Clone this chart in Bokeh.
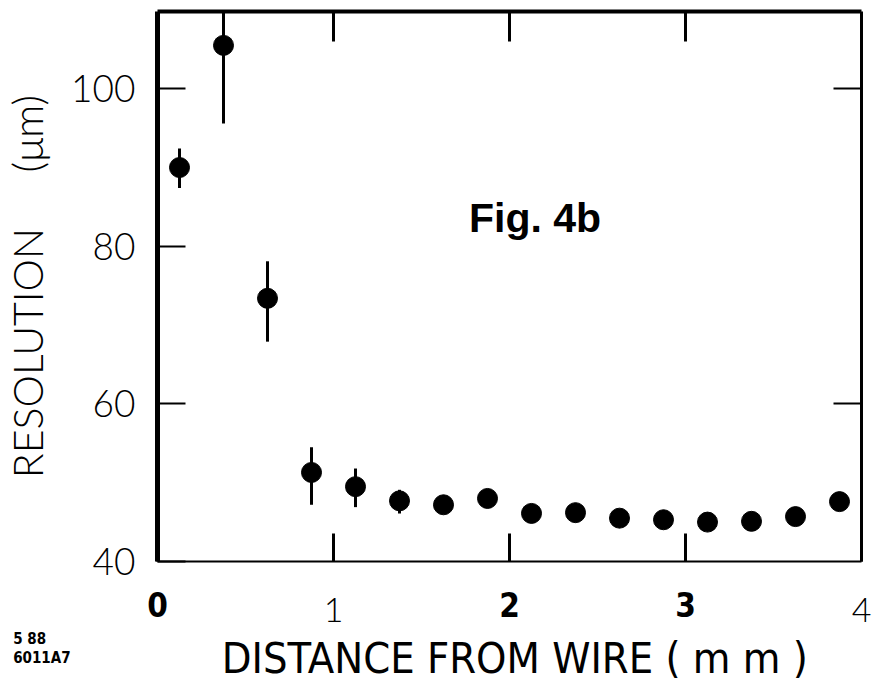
from bokeh.plotting import figure
from bokeh.models import Range1d, LinearAxis, FixedTicker, Label
from bokeh.embed import file_html
from bokeh.resources import INLINE

# Data
distance = [0.125, 0.375, 0.625, 0.875, 1.125, 1.375, 1.625, 1.875,
            2.125, 2.375, 2.625, 2.875, 3.125, 3.375, 3.625, 3.875]
resolution = [90.0, 105.5, 73.4, 51.3, 49.5, 47.7, 47.2, 48.0,
              46.1, 46.2, 45.5, 45.3, 45.0, 45.1, 45.7, 47.6]
err_low = [87.4, 95.6, 67.9, 47.2, 46.9, 46.1, 46.3, 47.2,
           45.3, 45.4, 44.7, 44.5, 44.2, 44.3, 44.9, 46.8]
err_high = [92.4, 116.0, 78.1, 54.5, 51.8, 49.1, 48.2, 48.8,
            46.9, 47.0, 46.3, 46.1, 45.8, 45.9, 46.5, 48.4]

x_bold_ticks = [0, 2, 3]
x_light_ticks = [1, 4]
y_ticks = [40, 60, 80, 100]
x_title = "DISTANCE FROM WIRE ( m m )"
y_title = "RESOLUTION\u00a0\u00a0\u00a0\u00a0\u00a0(\u03bcm)"
fig_label = "Fig. 4b"
stamp_lines = ["5 88", "6011A7"]

LIGHT = "Lato Light, Lato"
NARROW = "Liberation Sans Narrow, DejaVu Sans Condensed, Liberation Sans"

p = figure(frame_width=704, frame_height=550,
           x_range=Range1d(0, 4), y_range=Range1d(40, 109.8),
           output_backend="svg", toolbar_location=None,
           x_axis_location=None, y_axis_location=None,
           min_border_left=157, min_border_top=11,
           min_border_right=12, min_border_bottom=115)
p.grid.visible = False
p.outline_line_color = None
p.background_fill_color = "white"
p.border_fill_color = "white"

left = LinearAxis(ticker=FixedTicker(ticks=y_ticks),
                  axis_line_width=5, major_tick_in=28, major_tick_out=0,
                  major_tick_line_width=2, minor_tick_line_color=None,
                  major_label_text_font=LIGHT, major_label_text_font_size="37px",
                  major_label_standoff=22, major_label_text_color="black",
                  axis_label=y_title, axis_label_text_font=LIGHT,
                  axis_label_text_font_size="41px", axis_label_text_font_style="normal",
                  axis_label_standoff=16, axis_label_text_color="black")
p.add_layout(left, "left")

right = LinearAxis(ticker=FixedTicker(ticks=[], minor_ticks=[60, 100]),
                   axis_line_width=3, minor_tick_in=28, minor_tick_out=0,
                   minor_tick_line_width=2, major_tick_line_color=None,
                   major_label_text_color=None, major_label_standoff=0)
p.add_layout(right, "right")

top = LinearAxis(ticker=FixedTicker(ticks=[], minor_ticks=[1, 2, 3]),
                 axis_line_width=4, minor_tick_in=30, minor_tick_out=0,
                 minor_tick_line_width=3, major_tick_line_color=None,
                 major_label_text_color=None, major_label_standoff=0)
p.add_layout(top, "above")

bottom = LinearAxis(ticker=FixedTicker(ticks=x_bold_ticks, minor_ticks=x_light_ticks),
                    axis_line_width=2, major_tick_in=28, major_tick_out=0,
                    major_tick_line_width=3,
                    minor_tick_in=28, minor_tick_out=0, minor_tick_line_width=3,
                    major_label_text_font=NARROW, major_label_text_font_style="bold",
                    major_label_text_font_size="33px", major_label_standoff=30,
                    major_label_text_color="black")
p.add_layout(bottom, "below")

# light tick labels "1" and "4"
for t in x_light_ticks:
    p.add_layout(Label(x=t, y=33.8, text=str(t), text_align="center",
                       text_baseline="middle", text_font=LIGHT,
                       text_font_size="34px", text_color="black"), "below")

# x axis title
p.add_layout(Label(x=2.03, y=27.7, text=x_title, text_align="center",
                   text_baseline="middle", text_font=NARROW,
                   text_font_size="43px", text_color="black"), "below")

p.segment(x0=distance, y0=err_low, x1=distance, y1=err_high,
          line_color="black", line_width=3)
p.scatter(distance, resolution, size=20, color="black")

p.add_layout(Label(x=1.77, y=83.6, text=fig_label, text_baseline="middle",
                   text_font="Liberation Sans, Arial", text_font_style="bold",
                   text_font_size="41px", text_color="black"))

for i, line in enumerate(stamp_lines):
    p.add_layout(Label(x=-0.82, y=30.2 - 2.4 * i, text=line,
                       text_baseline="middle", text_font=NARROW,
                       text_font_style="bold", text_font_size="15px",
                       text_color="black"), "below")

open("out.html", "w").write(file_html(p, INLINE))
